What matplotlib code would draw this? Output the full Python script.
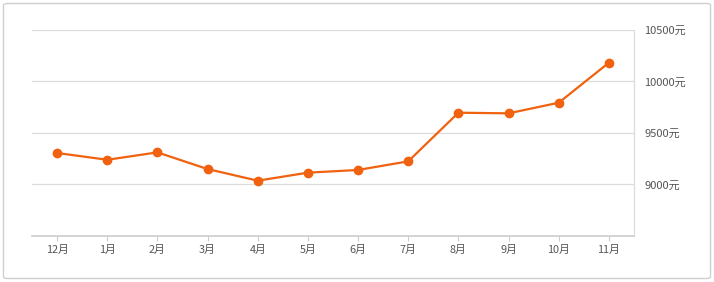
import matplotlib
matplotlib.use("Agg")
import matplotlib.pyplot as plt
from matplotlib.patches import FancyBboxPatch

plt.rcParams['font.family'] = ['Noto Sans CJK SC', 'DejaVu Sans']

months = ["12月", "1月", "2月", "3月", "4月", "5月", "6月", "7月", "8月", "9月", "10月", "11月"]
prices = [9306, 9240, 9312, 9150, 9037, 9115, 9141, 9225, 9697, 9691, 9794, 10183]
y_ticks = [9000, 9500, 10000, 10500]
y_labels = ["9000元", "9500元", "10000元", "10500元"]

W, H = 714, 282
fig = plt.figure(figsize=(W / 100, H / 100), dpi=100)
fig.patch.set_facecolor("white")

# outer rounded frame
frame = FancyBboxPatch((3.5 / W, 3.5 / H), (W - 7) / W, (H - 7) / H,
                       boxstyle="round,pad=0,rounding_size=0.006",
                       transform=fig.transFigure, fill=False,
                       edgecolor="#cfcfcf", linewidth=1.0)
fig.patches.append(frame)

ax = fig.add_axes([32 / W, (H - 236) / H, (634 - 32) / W, (236 - 30) / H])
x = list(range(len(months)))
ax.plot(x, prices, color="#f0620f", linewidth=1.6, marker="o",
        markersize=6, markerfacecolor="#f0620f", markeredgecolor="#f0620f", zorder=3)

ax.set_xlim(-0.5, len(months) - 0.5)
ax.set_ylim(8500, 10500)
ax.set_xticks(x)
ax.set_xticklabels(months)
ax.yaxis.tick_right()
ax.set_yticks(y_ticks)
ax.set_yticklabels(y_labels)
ax.grid(axis="y", color="#dcdcdc", linewidth=0.9)
ax.set_axisbelow(True)

for side in ["top", "left"]:
    ax.spines[side].set_visible(False)
ax.spines["right"].set_color("#dcdcdc")
ax.spines["right"].set_linewidth(0.9)
ax.spines["bottom"].set_color("#cccccc")
ax.spines["bottom"].set_linewidth(1.2)

ax.tick_params(axis="x", length=3.5, width=0.8, color="#cccccc", labelsize=7.8,
               labelcolor="#555555", pad=3)
ax.tick_params(axis="y", length=0, labelsize=8, labelcolor="#555555", pad=7.5)

fig.savefig("out.png", dpi=100, facecolor="white")
